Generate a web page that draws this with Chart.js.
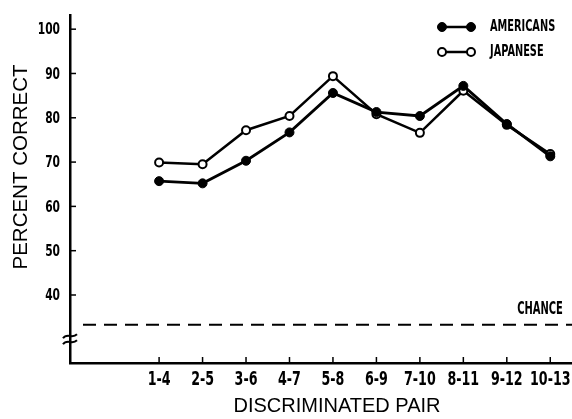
<!DOCTYPE html>
<html>
<head>
<meta charset="utf-8">
<style>
  html, body { margin: 0; padding: 0; background: #fff; }
  #wrap { width: 572px; height: 419px; }
</style>
<script src="https://cdn.jsdelivr.net/npm/chart.js@4/dist/chart.umd.min.js"></script>
</head>
<body>
<div id="wrap"><canvas id="linechart" width="572" height="419"></canvas></div>
<script>
// discriminated pairs along the x axis
let pairs = ['1-4', '2-5', '3-6', '4-7', '5-8', '6-9', '7-10', '8-11', '9-12', '10-13'];
let americans = [65.7, 65.2, 70.3, 76.7, 85.6, 81.3, 80.4, 87.2, 78.6, 71.3];
let japanese = [69.9, 69.5, 77.2, 80.4, 89.4, 80.8, 76.6, 86.1, 78.4, 71.8];
let yTicks = [40, 50, 60, 70, 80, 90, 100];
let chanceLevel = 33.3;
let breakLevel = 30;

let condensed = '"DejaVu Sans Condensed", "DejaVu Sans", sans-serif';
let plain = '"Liberation Sans", Arial, sans-serif';

// squeezed text, like the typewriter lettering of the original
function narrowText(c, text, x, y, size, squeeze, align) {
	c.save();
	c.font = 'bold ' + size + 'px ' + condensed;
	c.textBaseline = 'middle';
	c.textAlign = align;
	c.translate(x, y);
	c.scale(squeeze, 1);
	c.fillText(text, 0, 0);
	c.restore();
}

// tick marks, labels, axis break, chance line, titles and legend
let extras = {
	id: 'extras',
	afterDraw(chart) {
		let c = chart.ctx;
		let xs = chart.scales.x;
		let ys = chart.scales.y;
		let area = chart.chartArea;
		c.save();
		c.strokeStyle = '#000';
		c.fillStyle = '#000';
		c.lineWidth = 1.5;

		yTicks.forEach((v) => {
			let y = ys.getPixelForValue(v);
			c.beginPath();
			c.moveTo(area.left, y);
			c.lineTo(area.left + 6, y);
			c.stroke();
			narrowText(c, String(v), area.left - 10, y + 1, 16.5, 0.72, 'right');
		});
		pairs.forEach((p, i) => {
			let x = xs.getPixelForValue(i);
			c.beginPath();
			c.moveTo(x, area.bottom);
			c.lineTo(x, area.bottom - 6);
			c.stroke();
			narrowText(c, p, x, area.bottom + 17, 19, 0.74, 'center');
		});

		// axis break
		let by = ys.getPixelForValue(breakLevel);
		c.lineWidth = 2;
		[-3, 3].forEach((d) => {
			c.beginPath();
			c.moveTo(area.left - 7, by + d + 2);
			c.bezierCurveTo(area.left - 3, by + d - 4, area.left + 2, by + d + 3, area.left + 7, by + d - 2);
			c.stroke();
		});

		// chance line
		let cy = ys.getPixelForValue(chanceLevel);
		c.lineWidth = 2;
		c.setLineDash([13, 8]);
		c.beginPath();
		c.moveTo(area.left + 13, cy);
		c.lineTo(area.right, cy);
		c.stroke();
		c.setLineDash([]);
		narrowText(c, 'CHANCE', 540, cy - 15, 17, 0.65, 'center');

		// axis titles
		c.font = '20px ' + plain;
		c.textAlign = 'center';
		c.textBaseline = 'middle';
		c.fillText('DISCRIMINATED PAIR', 337, 406);
		c.save();
		c.translate(21, 167);
		c.rotate(-Math.PI / 2);
		c.font = '20.5px ' + plain;
		c.fillText('PERCENT CORRECT', 0, 0);
		c.restore();

		// legend
		chart.data.datasets.forEach((ds, i) => {
			let y = 27 + i * 25;
			c.lineWidth = 2.5;
			c.beginPath();
			c.moveTo(442, y);
			c.lineTo(471, y);
			c.stroke();
			[442, 471].forEach((x) => {
				c.beginPath();
				c.arc(x, y, ds.pointRadius, 0, Math.PI * 2);
				c.fillStyle = ds.pointBackgroundColor;
				c.fill();
				c.lineWidth = ds.pointBorderWidth;
				c.stroke();
			});
			c.fillStyle = '#000';
			narrowText(c, ds.label, 490, y, 16, 0.68, 'left');
		});
		c.restore();
	}
};

let ctx = document.getElementById('linechart');
let lineChart = new Chart(ctx, {
	type: 'line',
	data: {
		labels: pairs.map((p, i) => i),
		datasets: [
			{
				label: 'AMERICANS',
				data: americans,
				borderColor: '#000',
				borderWidth: 2.8,
				pointRadius: 4.5,
				pointBackgroundColor: '#000',
				pointBorderColor: '#000',
				pointBorderWidth: 1
			},
			{
				label: 'JAPANESE',
				data: japanese,
				borderColor: '#000',
				borderWidth: 2.5,
				pointRadius: 4,
				pointBackgroundColor: '#fff',
				pointBorderColor: '#000',
				pointBorderWidth: 2
			}
		]
	},
	options: {
		responsive: false,
		animation: false,
		layout: { autoPadding: false, padding: { top: 15, right: 0, bottom: 0, left: 0 } },
		plugins: {
			legend: { display: false },
			tooltip: { enabled: false }
		},
		scales: {
			x: {
				type: 'linear',
				min: -2.05,
				max: 9.5,
				afterBuildTicks: (scale) => {
					scale.ticks = pairs.map((p, i) => ({ value: i }));
				},
				afterFit: (scale) => {
					scale.height = 56;
					scale.paddingLeft = 0;
					scale.paddingRight = 0;
				},
				grid: { display: false, drawTicks: false },
				border: { display: true, color: '#000', width: 2.5 },
				ticks: { display: false }
			},
			y: {
				min: 24.65,
				max: 103.2,
				afterBuildTicks: (scale) => {
					scale.ticks = yTicks.map((v) => ({ value: v }));
				},
				afterFit: (scale) => {
					scale.width = 70;
					scale.paddingTop = 0;
					scale.paddingBottom = 0;
				},
				grid: { display: false, drawTicks: false },
				border: { display: true, color: '#000', width: 2.5 },
				ticks: { display: false }
			}
		}
	},
	plugins: [extras]
});
</script>
</body>
</html>
